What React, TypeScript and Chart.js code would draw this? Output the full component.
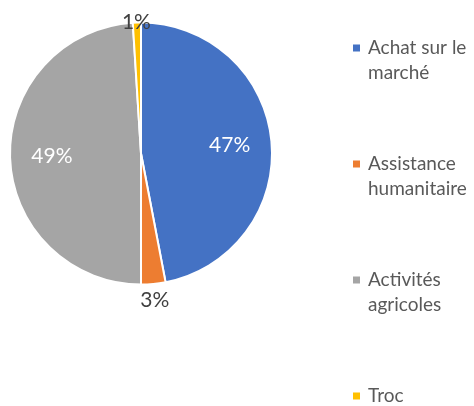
import React, { useEffect, useRef } from "react";
import { Chart, registerables } from "chart.js";

Chart.register(...registerables);

const categories = ["Achat sur le marché", "Assistance humanitaire", "Activités agricoles", "Troc"];
const values = [47, 3, 49, 1];
const colors = ["#4472C4", "#ED7D31", "#A5A5A5", "#FFC000"];

const FONT = "Lato, 'Open Sans', sans-serif";

function wrap(ctx: CanvasRenderingContext2D, text: string, maxW: number): string[] {
  const words = text.split(" ");
  const lines: string[] = [];
  let cur = "";
  for (const w of words) {
    const t = cur ? cur + " " + w : w;
    if (ctx.measureText(t).width > maxW && cur) {
      lines.push(cur);
      cur = w;
    } else cur = t;
  }
  if (cur) lines.push(cur);
  return lines;
}

const labelPlugin = {
  id: "pieLabels",
  afterDraw(chart: any) {
    const ctx: CanvasRenderingContext2D = chart.ctx;
    const meta = chart.getDatasetMeta(0);
    const total = values.reduce((a, b) => a + b, 0);
    ctx.save();
    ctx.font = `21px ${FONT}`;
    ctx.textAlign = "center";
    ctx.textBaseline = "middle";
    meta.data.forEach((arc: any, i: number) => {
      const { x, y, startAngle, endAngle, outerRadius } = arc.getProps(
        ["x", "y", "startAngle", "endAngle", "outerRadius"],
        true
      );
      const mid = (startAngle + endAngle) / 2;
      const pct = Math.round((values[i] / total) * 100) + "%";
      const inside = values[i] / total >= 0.05;
      const r = inside ? outerRadius * 0.68 : outerRadius + 16;
      let lx = x + Math.cos(mid) * r;
      let ly = y + Math.sin(mid) * r;
      if (ly < 22) ly = 22;
      ctx.fillStyle = inside ? "#FFFFFF" : "#404040";
      ctx.fillText(pct, lx, ly);
    });

    // legend
    ctx.font = `19px ${FONT}`;
    ctx.textAlign = "left";
    ctx.textBaseline = "middle";
    categories.forEach((c, i) => {
      const top = 48 + i * 116;
      ctx.fillStyle = colors[i];
      ctx.fillRect(353, top - 3.5, 7, 7);
      ctx.fillStyle = "#595959";
      const lines = wrap(ctx, c, 112);
      lines.forEach((ln, j) => ctx.fillText(ln, 368, top + j * 25));
    });
    ctx.restore();
  },
};

export default function App() {
  const ref = useRef<HTMLCanvasElement | null>(null);
  useEffect(() => {
    if (!ref.current) return;
    const chart = new Chart(ref.current, {
      type: "pie",
      data: {
        labels: categories,
        datasets: [
          {
            data: values,
            backgroundColor: colors,
            borderColor: "#FFFFFF",
            borderWidth: 2,
          },
        ],
      },
      options: {
        animation: false,
        responsive: false,
        layout: { padding: { left: 9, top: 21, right: 201, bottom: 120 } },
        plugins: { legend: { display: false }, tooltip: { enabled: false } },
      },
      plugins: [labelPlugin],
    });
    return () => chart.destroy();
  }, []);
  return (
    <div style={{ position: "absolute", left: 0, top: 0, width: 474, height: 406, background: "#fff" }}>
      <canvas ref={ref} width={474} height={406} />
    </div>
  );
}
